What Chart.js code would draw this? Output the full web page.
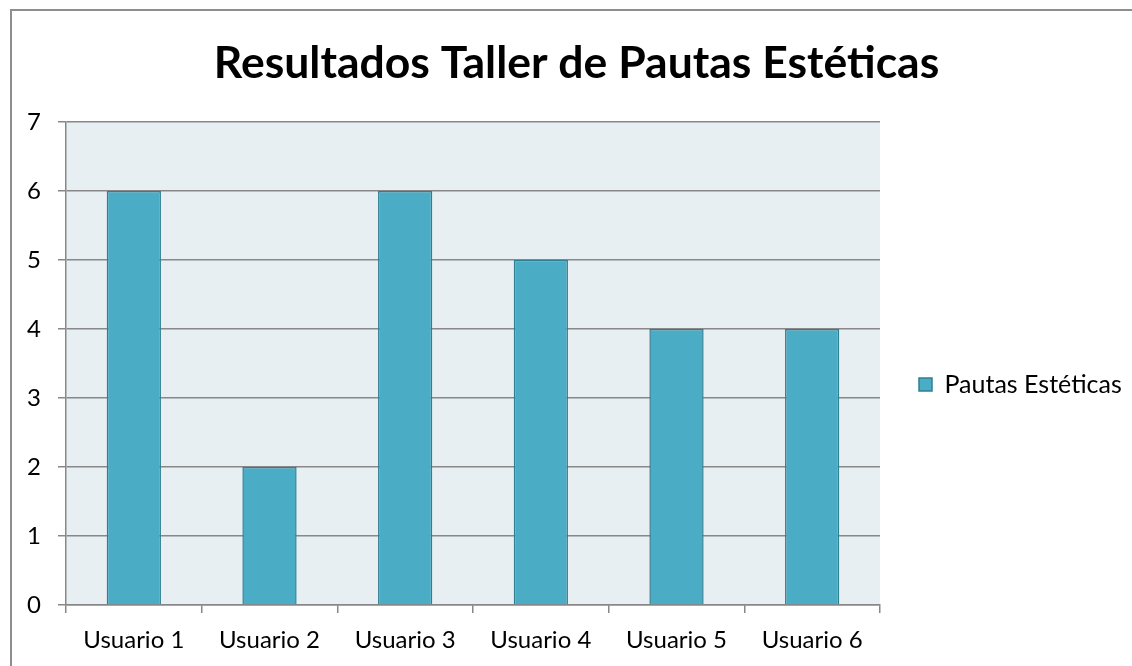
<!DOCTYPE html>
<html>
<head>
<meta charset="utf-8">
<script src="https://cdn.jsdelivr.net/npm/chart.js@4/dist/chart.umd.min.js"></script>
<style>
  html, body { margin: 0; padding: 0; background: #fff; }
  #wrap { position: relative; width: 1132px; height: 666px; overflow: hidden; }
  #frame { position: absolute; left: 10px; top: 9px; width: 1200px; height: 800px;
           border-left: 2px solid #8e8e8e; border-top: 2px solid #8e8e8e; }
  canvas { position: absolute; left: 0; top: 0; }
</style>
</head>
<body>
<div id="wrap">
  <div id="frame"></div>
  <canvas id="c" width="1132" height="666"></canvas>
</div>
<script>
const categories = ["Usuario 1", "Usuario 2", "Usuario 3", "Usuario 4", "Usuario 5", "Usuario 6"];
const seriesName = "Pautas Estéticas";
const seriesValues = [6, 2, 6, 5, 4, 4];
const yTicks = [0, 1, 2, 3, 4, 5, 6, 7];
const chartTitle = "Resultados Taller de Pautas Estéticas";

const plotBg = {
  id: 'plotBg',
  beforeDraw(chart) {
    const a = chart.chartArea, ctx = chart.ctx;
    ctx.save();
    ctx.fillStyle = '#e8eff3';
    ctx.fillRect(a.left, a.top, a.right - a.left, a.bottom - a.top);
    ctx.restore();
  }
};

new Chart(document.getElementById('c'), {
  type: 'bar',
  data: {
    labels: categories,
    datasets: [{
      label: seriesName,
      data: seriesValues,
      backgroundColor: '#4bacc6',
      borderColor: '#2f7f93',
      borderWidth: 1.5,
      categoryPercentage: 1.0,
      barPercentage: 0.4
    }]
  },
  options: {
    responsive: false,
    animation: false,
    devicePixelRatio: 1,
    layout: { padding: { left: 25, right: 4, top: 0, bottom: 0 } },
    plugins: {
      title: {
        display: true,
        text: chartTitle,
        color: '#000',
        font: { family: 'Lato', size: 44.5, weight: 'bold', lineHeight: 1.2 },
        padding: { top: 37, bottom: 31.6 }
      },
      legend: {
        display: true,
        position: 'right',
        fullSize: false,
        maxWidth: 248,
        title: { display: true, text: '', padding: 0, font: { size: 42, lineHeight: 1 } },
        labels: {
          color: '#000',
          font: { family: 'Lato', size: 25 },
          boxWidth: 13,
          boxHeight: 13,
          padding: 39
        }
      },
      tooltip: { enabled: false }
    },
    scales: {
      x: {
        offset: true,
        grid: { offset: true, drawOnChartArea: false, color: '#888', lineWidth: 1.5, tickLength: 8 },
        border: { color: '#888', width: 1.5 },
        ticks: { color: '#000', font: { family: 'Lato', size: 24 }, padding: 13 },
        afterFit(s) { s.height = 61; }
      },
      y: {
        min: 0, max: 7,
        afterBuildTicks(s) { s.ticks = yTicks.map(v => ({ value: v })); },
        grid: { color: '#888', lineWidth: 1.5, tickLength: 8 },
        border: { color: '#888', width: 1.5 },
        ticks: { color: '#000', font: { family: 'Lato', size: 24 }, padding: 17 },
        afterFit(s) { s.width = 41; }
      }
    }
  },
  plugins: [plotBg]
});
</script>
</body>
</html>
